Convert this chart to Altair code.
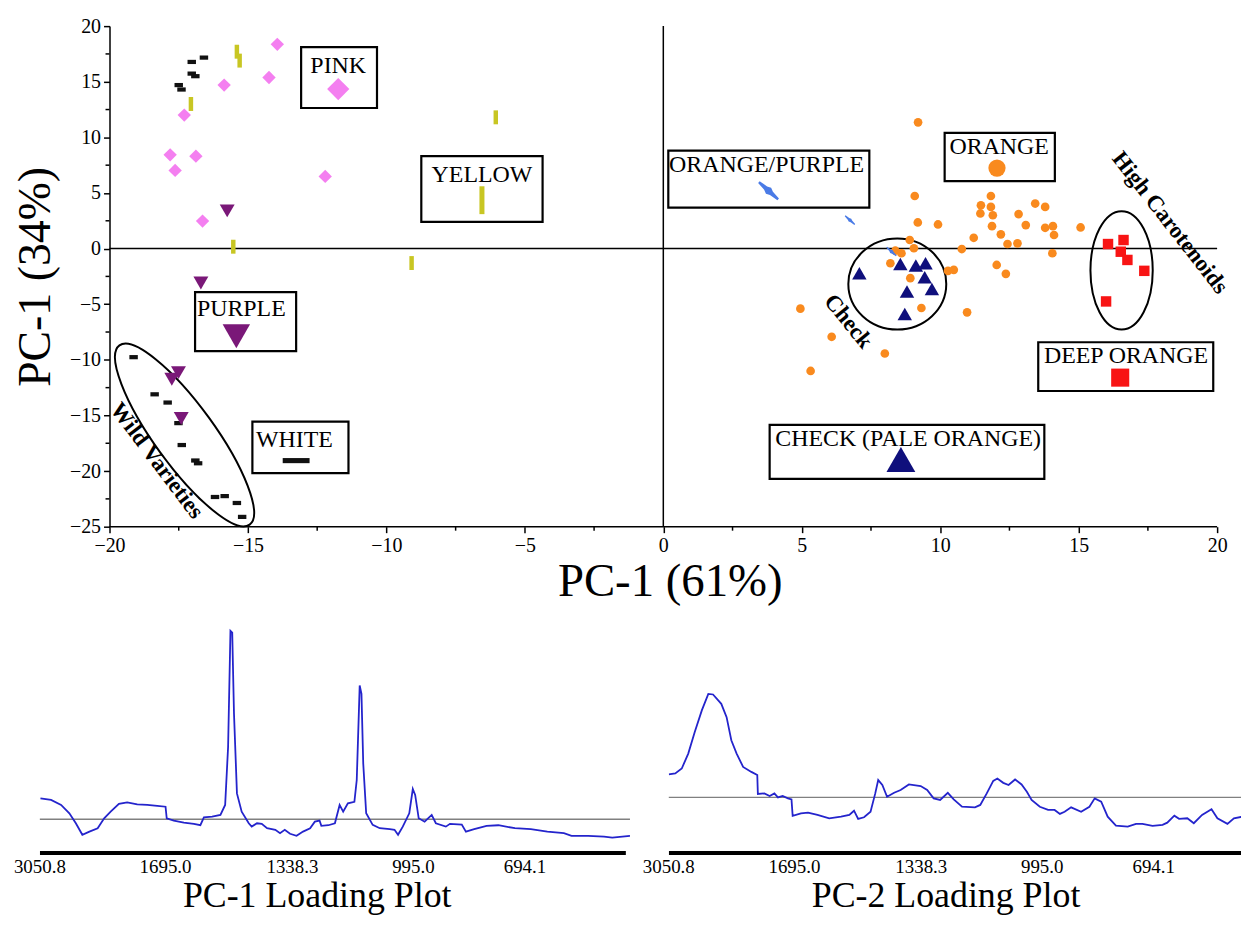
import altair as alt
import pandas as pd

FONT = "Liberation Serif"

# ---------------- score plot data (PC-1 vs PC-2 scores) ----------------
pink_x = [-13.94, -15.86, -14.24, -17.3, -17.81, -16.88, -17.63, -12.21, -16.64]
pink_y = [18.36, 14.7, 15.38, 12.0, 8.43, 8.31, 7.03, 6.49, 2.47]

yellow_x = [-15.4, -15.3, -17.06, -15.53, -6.05, -9.09]
yellow_y = [17.7, 16.9, 13.0, 0.17, 11.8, -1.3]

white_x = [-17.5, -17.4, -17.03, -17.03, -16.9, -16.59,
           -19.13, -18.37, -17.9, -17.51, -17.39, -16.9, -16.8,
           -16.19, -15.84, -15.4, -15.21]
white_y = [14.7, 14.3, 16.78, 15.73, 15.5, 17.17,
           -9.76, -13.1, -13.84, -15.69, -17.66, -19.05, -19.3,
           -22.33, -22.25, -22.87, -24.12]

purple_x = [-15.75, -16.7, -17.51, -17.75, -17.41]
purple_y = [3.39, -3.1, -11.15, -11.74, -15.27]

orpu_x = [6.74, 8.24]
orpu_y = [2.56, -0.27]

orange_x = [9.2, 9.08, 11.83, 11.47, 11.83, 11.45, 11.9, 13.43, 13.79, 12.83,
            13.09, 11.87, 12.19, 13.79, 14.07, 14.11, 12.43, 12.79, 14.05, 11.21,
            10.78, 9.19, 9.92, 8.9, 9.05, 8.38, 8.6, 8.2, 8.92, 10.28,
            10.49, 12.04, 12.37, 9.32, 10.97, 4.95, 6.08, 8.0, 5.32, 15.07]
orange_y = [11.35, 4.73, 4.73, 3.9, 3.75, 3.16, 3.0, 4.05, 3.75, 3.1,
            2.11, 2.02, 1.28, 1.87, 2.02, 1.22, 0.41, 0.47, -0.42, 0.97,
            -0.04, 2.35, 2.17, 0.77, 0.03, -0.19, -0.42, -1.32, -2.66, -2.0,
            -1.91, -1.47, -2.27, -5.34, -5.73, -5.4, -7.93, -9.43, -11.0, 1.9]

check_x = [7.08, 8.56, 9.12, 9.47, 9.44, 9.7, 8.8, 8.72]
check_y = [-2.21, -1.38, -1.53, -1.32, -2.57, -3.64, -3.85, -5.88]

deep_x = [16.06, 16.62, 16.52, 16.76, 17.37, 15.99]
deep_y = [0.41, 0.77, -0.28, -1.02, -2.0, -4.75]

# label boxes: text, box corners, text anchor, legend-symbol anchor
box_text = ["PINK", "YELLOW", "PURPLE", "WHITE", "ORANGE/PURPLE", "ORANGE",
            "DEEP ORANGE", "CHECK (PALE ORANGE)"]
box_x1 = [-13.08, -8.74, -16.91, -14.84, 0.18, 10.16, 13.54, 3.84]
box_x2 = [-10.34, -4.36, -13.26, -11.37, 7.44, 14.14, 19.86, 13.76]
box_y1 = [18.12, 8.31, -3.91, -15.56, 8.8, 10.4, -8.42, -15.84]
box_y2 = [12.64, 2.41, -9.22, -20.19, 3.69, 6.07, -12.8, -20.7]
text_x = [-11.74, -6.55, -15.24, -13.32, 3.73, 12.13, 16.71, 8.84]
text_y = [15.82, 5.98, -6.09, -17.86, 6.88, 8.52, -10.26, -17.77]
sym_x = [-11.74, -6.55, -15.42, -13.26, 3.8, 12.05, 16.5, 8.58]
sym_y = [14.34, 4.35, -7.88, -19.06, 5.2, 7.24, -11.6, -18.97]

# group annotations (rotated labels and ellipses)
note_text = ["Wild Varieties", "Check", "High Carotenoids"]
note_x = [-18.29, 6.68, 18.3]
note_y = [-19.06, -6.54, 2.33]
note_angle = [53, 51, 52]

ell_x = [-17.29, 8.45, 16.55]
ell_y = [-16.76, -3.18, -1.96]

# axis ticks
major_x = [-20, -15, -10, -5, 0, 5, 10, 15, 20]
major_y = [-25, -20, -15, -10, -5, 0, 5, 10, 15, 20]
minor_x = [-17.5, -12.5, -7.5, -2.5, 2.5, 7.5, 12.5, 17.5]
minor_y = [-22.5, -17.5, -12.5, -7.5, -2.5, 2.5, 7.5, 12.5, 17.5]

# ---------------- loading plot data ----------------
pc1_idx = [1, 19, 36, 50, 61, 72, 84, 98, 109, 120, 134, 148, 165, 182, 199, 213, 215, 227, 244, 261,
           272, 278, 292, 306, 314, 319, 323, 326, 329, 334, 342, 354, 359, 368, 376, 385, 399, 407, 415, 424,
           435, 446, 458, 466, 474, 477, 489, 500, 508, 514, 522, 533, 537, 542, 545, 548, 553, 564, 576, 593,
           601, 607, 615, 626, 632, 636, 642, 652, 664, 671, 688, 695, 715, 722, 736, 757, 777, 805, 832, 860,
           888, 901, 929, 956, 970, 1000]
pc1_val = [0.105, 0.097, 0.072, 0.03, -0.02, -0.078, -0.062, -0.045, 0.005, 0.038,
           0.077, 0.085, 0.075, 0.072, 0.067, 0.063, 0.005, -0.007, -0.017, -0.023,
           -0.03, 0.01, 0.013, 0.022, 0.072, 0.363, 0.947, 0.938, 0.53, 0.13,
           0.038, -0.02, -0.037, -0.02, -0.023, -0.045, -0.053, -0.07, -0.053, -0.073,
           -0.083, -0.062, -0.045, -0.012, -0.007, -0.033, -0.03, -0.02, 0.072, 0.038,
           0.08, 0.088, 0.197, 0.672, 0.63, 0.28, 0.03, -0.028, -0.045, -0.05,
           -0.053, -0.078, -0.037, 0.03, 0.152, 0.122, 0.005, -0.012, 0.022, -0.02,
           -0.037, -0.023, -0.027, -0.062, -0.05, -0.033, -0.03, -0.045, -0.05, -0.062,
           -0.07, -0.083, -0.083, -0.087, -0.092, -0.083]

pc2_idx = [0, 11, 22, 33, 44, 56, 67, 75, 89, 98, 106, 115, 126, 140, 150, 151, 162, 171, 179, 185,
           193, 202, 208, 210, 224, 236, 252, 272, 292, 306, 314, 321, 331, 342, 350, 355, 362, 370, 382, 393,
           407, 427, 438, 449, 460, 473, 483, 497, 519, 528, 539, 550, 557, 567, 576, 587, 598, 607, 615, 629,
           643, 654, 663, 671, 682, 699, 713, 722, 733, 744, 758, 778, 792, 803, 820, 837, 845, 857, 865, 879,
           890, 904, 920, 930, 947, 958, 972, 983]
pc2_val = [0.115, 0.12, 0.145, 0.22, 0.328, 0.437, 0.52, 0.517, 0.47, 0.403,
           0.287, 0.22, 0.153, 0.128, 0.112, 0.017, 0.02, 0.007, 0.02, 0.0,
           0.007, -0.005, -0.01, -0.093, -0.08, -0.077, -0.088, -0.105, -0.097, -0.088,
           -0.067, -0.108, -0.1, -0.072, 0.02, 0.087, 0.062, 0.003, 0.023, 0.037,
           0.065, 0.057, 0.037, -0.005, -0.013, 0.023, -0.01, -0.047, -0.05, -0.038,
           0.02, 0.083, 0.095, 0.073, 0.062, 0.09, 0.065, 0.028, -0.013, -0.047,
           -0.063, -0.063, -0.083, -0.072, -0.05, -0.072, -0.047, -0.005, -0.022, -0.097,
           -0.142, -0.147, -0.133, -0.133, -0.143, -0.138, -0.127, -0.092, -0.108, -0.105,
           -0.13, -0.088, -0.06, -0.105, -0.133, -0.105, -0.097, -0.08]

wn_tick_idx = [0, 213, 428, 633, 822]
wn_tick_lab = ["3050.8", "1695.0", "1338.3", "995.0", "694.1"]

# where the wavenumber axis bar sits in each loading plot (loading units) and its extent
pc1_bar_level, pc1_bar_end = -0.17, 993
pc2_bar_level, pc2_bar_end = -0.28, 970
title_idx = 470

# ---------------- shapes (styling) ----------------
def ellipse_path(r):
    k = 0.5523
    return (f"M 1 0 C 1 {k*r:.4f} {k:.4f} {r:.4f} 0 {r:.4f} "
            f"C {-k:.4f} {r:.4f} -1 {k*r:.4f} -1 0 "
            f"C -1 {-k*r:.4f} {-k:.4f} {-r:.4f} 0 {-r:.4f} "
            f"C {k:.4f} {-r:.4f} 1 {-k*r:.4f} 1 0 Z")


def rect_path(w, h):
    return f"M {-w} {-h} L {w} {-h} L {w} {h} L {-w} {h} Z"


DASH = rect_path(1, 0.5)
DASH_BIG = rect_path(1, 0.19)
BAR = rect_path(0.32, 1)
BAR_BIG = rect_path(0.18, 1)
SPINDLE = ("M -1 -0.09 L -0.3 -0.17 L 0 -0.3 L 0.3 -0.17 L 1 -0.09 L 1 0.09 "
           "L 0.3 0.17 L 0 0.3 L -0.3 0.17 L -1 0.09 Z")

C_PINK = "#f47ff0"
C_YELLOW = "#c8c623"
C_WHITE = "#111111"
C_PURPLE = "#7a1878"
C_BLUE = "#4a7be6"
C_ORANGE = "#f98a1e"
C_CHECK = "#0f0f7c"
C_DEEP = "#f81414"

# ---------------- score plot ----------------
# plot area starts 70px left of the x=-20 axis so that it lines up with the loading plots
XMIN = -20 - 70 / 27.825
xscale = alt.Scale(domain=[XMIN, 20], nice=False, zero=False)
yscale = alt.Scale(domain=[-25, 20], nice=False, zero=False)
common_axis = dict(tickSize=6, tickWidth=1.5, tickColor="black", domainColor="black",
                   domainWidth=1.5, labelFont=FONT, labelFontSize=20, labelColor="black",
                   labelFlush=False, labelOverlap=False, grid=False, titleFont=FONT,
                   titleFontWeight="normal", titleColor="black")
xaxis = alt.Axis(values=major_x, title="PC-1 (61%)", domain=False, labelPadding=3,
                 titlePadding=3, titleFontSize=47, titleX=633, titleAlign="center", **common_axis)
yaxis = alt.Axis(values=major_y, title="PC-1 (34%)", offset=-70, labelPadding=3,
                 titlePadding=10, titleFontSize=46, **common_axis)


def X(field="x"):
    return alt.X(f"{field}:Q", scale=xscale, axis=xaxis)


def Y(field="y"):
    return alt.Y(f"{field}:Q", scale=yscale, axis=yaxis)


layers = []

# x-axis line and zero lines
layers.append(alt.Chart(pd.DataFrame({"x": [-20], "x2": [20], "y": [-25]}))
              .mark_rule(color="black", strokeWidth=1.5)
              .encode(x=X(), x2="x2:Q", y=Y()))
layers.append(alt.Chart(pd.DataFrame({"x": [0]})).mark_rule(color="black", strokeWidth=1.5)
              .encode(x=X()))
layers.append(alt.Chart(pd.DataFrame({"x": [-20], "x2": [20], "y": [0]}))
              .mark_rule(color="black", strokeWidth=1.5)
              .encode(x=X(), x2="x2:Q", y=Y()))

# minor ticks
layers.append(alt.Chart(pd.DataFrame({"x": minor_x, "y": [-25] * len(minor_x)}))
              .mark_tick(orient="vertical", size=4, thickness=1.5, color="black", opacity=1, yOffset=2)
              .encode(x=X(), y=Y()))
layers.append(alt.Chart(pd.DataFrame({"y": minor_y, "x": [-20] * len(minor_y)}))
              .mark_tick(orient="horizontal", size=4, thickness=1.5, color="black", opacity=1, xOffset=-2)
              .encode(x=X(), y=Y()))

# ellipses
ell_specs = [(ellipse_path(0.27), 222.6 ** 2, 54),
             (ellipse_path(0.93), 98.4 ** 2, 0),
             (ellipse_path(0.526), 119 ** 2, 90)]
for i, (path, size, ang) in enumerate(ell_specs):
    layers.append(alt.Chart(pd.DataFrame({"x": [ell_x[i]], "y": [ell_y[i]]}))
                  .mark_point(shape=path, size=size, angle=ang, filled=False, stroke="black",
                              strokeWidth=2, opacity=1)
                  .encode(x=X(), y=Y()))

# label boxes
boxes = pd.DataFrame({"x": box_x1, "x2": box_x2, "y": box_y1, "y2": box_y2})
layers.append(alt.Chart(boxes).mark_rect(fillOpacity=0, stroke="black", strokeWidth=2.2)
              .encode(x=X(), x2="x2:Q", y=Y(), y2="y2:Q"))


def pts(xs, ys, shape, size, color, angle=0):
    df = pd.DataFrame({"x": xs, "y": ys})
    return (alt.Chart(df).mark_point(shape=shape, size=size, filled=True, color=color,
                                     opacity=1, angle=angle, strokeWidth=0)
            .encode(x=X(), y=Y()))


# data groups
layers.append(pts(orange_x, orange_y, "circle", 76, C_ORANGE))
layers.append(pts(yellow_x, yellow_y, BAR, 196, C_YELLOW))
layers.append(pts(pink_x, pink_y, "diamond", 180, C_PINK))
layers.append(pts(white_x, white_y, DASH, 72, C_WHITE))
layers.append(pts(purple_x, purple_y, "triangle-down", 225, C_PURPLE))
layers.append(pts(orpu_x, orpu_y, SPINDLE, 170, C_BLUE, 42))
layers.append(pts(check_x, check_y, "triangle-up", 210, C_CHECK))
layers.append(pts(deep_x, deep_y, "square", 110, C_DEEP))

# legend symbols inside the boxes
sym_specs = [("diamond", 500, C_PINK, 0), (BAR_BIG, 784, C_YELLOW, 0),
             ("triangle-down", 760, C_PURPLE, 0), (DASH_BIG, 729, C_WHITE, 0),
             (SPINDLE, 680, C_BLUE, 42), ("circle", 300, C_ORANGE, 0),
             ("square", 330, C_DEEP, 0), ("triangle-up", 840, C_CHECK, 0)]
for i, (shape, size, color, ang) in enumerate(sym_specs):
    layers.append(pts([sym_x[i]], [sym_y[i]], shape, size, color, ang))

# box texts
layers.append(alt.Chart(pd.DataFrame({"x": text_x, "y": text_y, "t": box_text}))
              .mark_text(font=FONT, fontSize=24, baseline="alphabetic", align="center", color="black")
              .encode(x=X(), y=Y(), text="t:N"))

# rotated annotations
for i in range(len(note_text)):
    layers.append(alt.Chart(pd.DataFrame({"x": [note_x[i]], "y": [note_y[i]], "t": [note_text[i]]}))
                  .mark_text(font=FONT, fontSize=23, fontWeight="bold", angle=note_angle[i],
                             baseline="middle", align="center", color="black")
                  .encode(x=X(), y=Y(), text="t:N"))

scores = alt.layer(*layers).properties(width=1183, height=503)


# ---------------- loading plots ----------------
def loading(idx, val, xdom, ydom, width, title, bar_level, bar_end):
    xs = alt.Scale(domain=xdom, nice=False, zero=False)
    ys = alt.Scale(domain=ydom, nice=False, zero=False)

    def LX(f):
        return alt.X(f"{f}:Q", scale=xs, axis=None)

    def LY(f):
        return alt.Y(f"{f}:Q", scale=ys, axis=None)

    base = (alt.Chart(pd.DataFrame({"v": [0]}))
            .mark_rule(color="#808080", strokeWidth=1.5)
            .encode(y=LY("v")))
    line = (alt.Chart(pd.DataFrame({"idx": idx, "val": val}))
            .mark_line(color="#2424cc", strokeWidth=1.8, clip=True)
            .encode(x=LX("idx"), y=LY("val")))
    bar = (alt.Chart(pd.DataFrame({"a": [0], "b": [bar_end], "v": [bar_level]}))
           .mark_rule(color="black", strokeWidth=4, clip=True)
           .encode(x=LX("a"), x2="b:Q", y=LY("v")))
    labels = (alt.Chart(pd.DataFrame({"idx": wn_tick_idx, "t": wn_tick_lab,
                                      "v": [bar_level] * len(wn_tick_idx)}))
              .mark_text(font=FONT, fontSize=19, color="black", baseline="middle",
                         align="center", dy=14)
              .encode(x=LX("idx"), y=LY("v"), text="t:N"))
    ttl = (alt.Chart(pd.DataFrame({"idx": [title_idx], "t": [title], "v": [bar_level]}))
           .mark_text(font=FONT, fontSize=36, color="black", baseline="bottom",
                      align="center", dy=62)
           .encode(x=LX("idx"), y=LY("v"), text="t:N"))
    return alt.layer(base, line, bar, labels, ttl).properties(width=width, height=305)


pc1 = loading(pc1_idx, pc1_val, [0, 1000], [-0.48, 1.045], 593, "PC-1 Loading Plot",
              pc1_bar_level, pc1_bar_end)
pc2 = loading(pc2_idx, pc2_val, [0, 970], [-0.59, 0.935], 575, "PC-2 Loading Plot",
              pc2_bar_level, pc2_bar_end)

bottom = alt.hconcat(pc1, pc2, spacing=11)

chart = (alt.vconcat(scores, bottom, spacing=7)
         .properties(padding={"left": 4, "top": 6, "right": 0, "bottom": 0})
         .configure(font=FONT, background="white")
         .configure_view(stroke="transparent", strokeWidth=0))

chart.save("out.html", embed_options={"renderer": "svg", "actions": False})
